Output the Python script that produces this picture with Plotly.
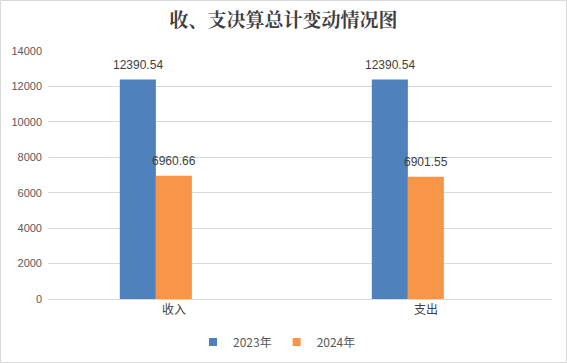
import plotly.graph_objects as go

categories = ["收入", "支出"]
series_names = ["2023年", "2024年"]
values_2023 = [12390.54, 12390.54]
values_2024 = [6960.66, 6901.55]
y_ticks = [0, 2000, 4000, 6000, 8000, 10000, 12000, 14000]

colors = ["#4F81BD", "#F79646"]
W, H = 567, 363
ml, mr, mt, mb = 48, 15, 51, 64
pw, ph = W - ml - mr, H - mt - mb

bar_w = 0.143
offsets = [-0.215, -0.072]
cat_px = pw / 2.0

fig = go.Figure()
annotations = []
for name, vals, col, off in zip(series_names, [values_2023, values_2024], colors, offsets):
    fig.add_trace(go.Bar(
        x=categories, y=vals, name=name, showlegend=False, legendgroup=name,
        marker=dict(color=col, line=dict(width=0)),
        width=[bar_w] * len(vals), offset=[off] * len(vals),
    ))
    # legend proxy
    fig.add_trace(go.Scatter(
        x=[None], y=[None], mode="markers", name=name, legendgroup=name,
        marker=dict(symbol="square", size=8, color=col),
    ))
    for c, v in zip(categories, vals):
        annotations.append(dict(
            x=c, y=v, xref="x", yref="y", text=f"{v:.2f}", showarrow=False,
            xshift=(off + bar_w / 2) * cat_px, yshift=15, yanchor="middle", xanchor="center",
            font=dict(size=12, color="#404040", family="Liberation Sans, Arial"),
        ))

fig.update_layout(
    width=W, height=H,
    margin=dict(l=ml, r=mr, t=mt, b=mb, autoexpand=False),
    paper_bgcolor="white", plot_bgcolor="white",
    barmode="overlay",
    annotations=annotations,
    title=dict(text="<b>收、支决算总计变动情况图</b>", x=0.5, xanchor="center", xref="container",
               y=1 - 20 / H, yanchor="middle",
               font=dict(size=19, color="#404040", family="Noto Serif CJK SC, Noto Sans CJK SC")),
    showlegend=True,
    legend=dict(orientation="h", x=(193 - ml) / pw, xanchor="left", y=-(342 - 299) / ph, yanchor="middle",
                font=dict(size=12, color="#595959", family="Noto Sans CJK SC"),
                itemwidth=30, traceorder="normal"),
    xaxis=dict(type="category", range=[-0.5, 1.5], showgrid=False, showline=True, linecolor="#D9D9D9",
               ticks="", automargin=False, tickfont=dict(size=12, color="#404040", family="Noto Sans CJK SC")),
    yaxis=dict(range=[0, 14000], tickvals=y_ticks, ticktext=[str(t) for t in y_ticks],
               showgrid=True, gridcolor="#D9D9D9", zeroline=False, automargin=False, ticklabelstandoff=5,
               showline=False, ticks="", tickfont=dict(size=11, color="#595959", family="Liberation Sans, Arial")),
    shapes=[dict(type="rect", xref="paper", yref="paper",
                 x0=(0.5 - ml) / pw, x1=(W - 0.5 - ml) / pw,
                 y0=-(H - 0.5 - (mt + ph)) / ph, y1=1 + (mt - 0.5) / ph,
                 line=dict(color="#D9D9D9", width=1), fillcolor="rgba(0,0,0,0)", layer="below")],
)
fig.write_html("out.html", config={"displayModeBar": False},
               post_script="document.body.style.margin='0';document.body.style.overflow='hidden';")
